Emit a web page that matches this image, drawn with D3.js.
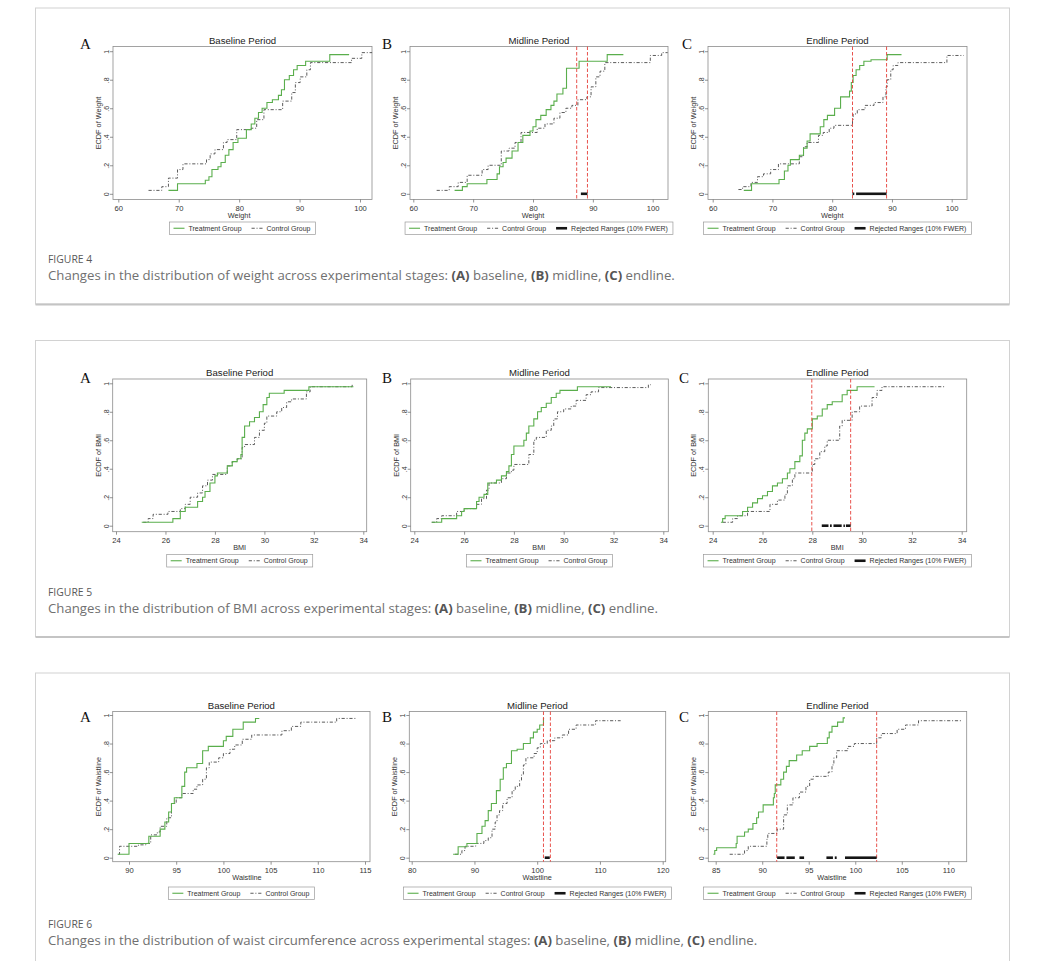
<!DOCTYPE html>
<html>
<head>
<meta charset="utf-8">
<script src="https://cdn.jsdelivr.net/npm/d3@7"></script>
<style>
  body { margin: 0; background: #fff; }
  svg { display: block; }
</style>
</head>
<body>
<svg id="fig" width="1052" height="961"></svg>
<script>
// ---- tick labels / categories ----
const weightTicks = [60, 70, 80, 90, 100];
const bmiTicks = [24, 26, 28, 30, 32, 34];
const waistTicksA = [90, 95, 100, 105, 110, 115];
const waistTicksB = [80, 90, 100, 110, 120];
const waistTicksC = [85, 90, 95, 100, 105, 110];
const ecdfTicks = [0, .2, .4, .6, .8, 1];
const periods = ["Baseline Period", "Midline Period", "Endline Period"];
const letters = ["A", "B", "C"];

// ---- ECDF steps: [value, level after the step] ----
const weightBaseTreat = [[68.3,.024],[69.8,.07],[74.4,.095],[75.0,.12],[75.5,.17],[76.5,.19],[77.0,.22],[77.7,.27],[78.3,.31],[79.0,.36],[79.8,.39],[81.2,.45],[82.0,.49],[82.6,.53],[83.2,.57],[83.8,.6],[84.6,.64],[85.5,.66],[86.5,.69],[87.0,.73],[87.5,.8],[88.3,.83],[89.0,.87],[89.6,.9],[91.0,.93],[95.0,.976],[98.2,.976]];
const weightBaseCtrl = [[65.0,.024],[67.2,.05],[68.3,.11],[69.8,.17],[70.7,.21],[74.6,.24],[75.2,.28],[76.0,.31],[77.4,.36],[78.0,.38],[79.6,.45],[82.0,.46],[82.9,.52],[84.1,.59],[87.2,.65],[88.7,.71],[89.3,.78],[90.1,.82],[91.2,.87],[91.8,.92],[98.6,.95],[100.3,.99],[102,.99]];
const weightMidTreat = [[66.9,.024],[68.2,.05],[69.0,.07],[72.3,.1],[74.0,.14],[74.4,.19],[75.0,.22],[75.5,.25],[76.5,.3],[77.5,.36],[78.3,.41],[79.5,.44],[80.0,.47],[80.5,.52],[81.3,.55],[82.2,.59],[83.0,.62],[83.5,.65],[84.0,.7],[85.0,.74],[85.6,.88],[87.7,.93],[92.4,.976],[95.1,.976]];
const weightMidCtrl = [[63.9,.024],[66.0,.05],[67.5,.08],[69.0,.13],[71.5,.17],[72.5,.2],[74.7,.3],[76.0,.32],[77.0,.36],[78.0,.43],[80.7,.46],[82.0,.49],[83.5,.53],[84.5,.57],[85.5,.6],[86.5,.62],[87.5,.66],[89.0,.68],[89.7,.75],[90.5,.82],[91.2,.86],[92.0,.92],[99.6,.97],[101.5,.99],[102.5,.99]];
const weightEndTreat = [[65.2,.024],[66.5,.07],[71.1,.1],[72.0,.16],[72.6,.2],[73.0,.24],[74.5,.27],[75.2,.32],[75.8,.37],[76.3,.42],[78.0,.47],[78.6,.52],[79.2,.55],[80.4,.6],[81.4,.68],[82.9,.72],[83.2,.78],[83.5,.83],[84.0,.87],[84.6,.9],[85.3,.93],[86.5,.94],[89.2,.976],[91.6,.976]];
const weightEndCtrl = [[64.3,.03],[65.0,.05],[66.4,.08],[67.5,.12],[68.5,.14],[69.7,.17],[71.0,.21],[74.5,.26],[75.2,.33],[75.8,.36],[77.7,.41],[78.5,.43],[79.5,.46],[80.3,.48],[83.4,.52],[83.5,.56],[84.2,.59],[85.5,.62],[87.0,.64],[88.5,.68],[89.0,.75],[89.2,.8],[89.8,.87],[90.2,.9],[91.0,.92],[99.2,.97],[102,.97]];

const bmiBaseTreat = [[25.04,.024],[26.3,.05],[26.6,.1],[26.8,.13],[27.3,.17],[27.5,.2],[27.6,.24],[27.8,.3],[28.0,.35],[28.1,.37],[28.5,.42],[28.7,.45],[28.9,.47],[29.05,.5],[29.1,.62],[29.2,.7],[29.4,.73],[29.6,.76],[29.8,.8],[29.95,.85],[30.1,.9],[30.2,.93],[30.8,.95],[31.8,.976],[33.6,.976]];
const bmiBaseCtrl = [[25.1,.024],[25.3,.05],[25.5,.08],[26.1,.1],[26.6,.12],[26.8,.15],[27.0,.2],[27.3,.23],[27.5,.28],[27.7,.32],[27.9,.36],[28.5,.42],[28.7,.45],[28.9,.47],[29.1,.55],[29.2,.57],[29.6,.62],[29.8,.67],[30.0,.72],[30.1,.77],[30.5,.8],[30.7,.83],[30.9,.87],[31.1,.89],[31.7,.94],[31.85,.976],[33.55,.99],[33.6,.99]];
const bmiMidTreat = [[24.7,.024],[25.1,.05],[25.7,.07],[25.9,.1],[26.0,.12],[26.5,.17],[26.6,.2],[26.8,.22],[26.95,.3],[27.3,.32],[27.5,.35],[27.7,.38],[27.8,.42],[27.9,.5],[28.0,.56],[28.4,.6],[28.5,.65],[28.6,.7],[28.8,.75],[28.95,.8],[29.1,.83],[29.3,.86],[29.5,.9],[29.7,.93],[29.85,.95],[30.55,.976],[31.9,.976]];
const bmiMidCtrl = [[24.7,.024],[24.9,.05],[25.1,.07],[25.7,.1],[26.0,.12],[26.5,.15],[26.7,.19],[26.9,.25],[27.0,.3],[27.5,.33],[27.7,.37],[27.9,.39],[28.0,.43],[28.6,.5],[28.8,.6],[28.9,.62],[29.3,.67],[29.5,.7],[29.6,.75],[29.75,.8],[30.0,.82],[30.3,.84],[30.5,.88],[30.9,.92],[31.1,.94],[31.4,.97],[33.4,.99],[33.5,.99]];
const bmiEndTreat = [[24.33,.024],[24.4,.05],[24.5,.07],[25.2,.1],[25.4,.13],[25.6,.16],[25.8,.19],[26.0,.21],[26.2,.24],[26.4,.28],[26.6,.3],[26.8,.33],[27.0,.37],[27.1,.4],[27.3,.45],[27.5,.49],[27.6,.6],[27.7,.65],[27.8,.68],[28.0,.75],[28.2,.77],[28.4,.82],[28.6,.85],[28.8,.87],[29.2,.92],[29.4,.95],[29.8,.976],[30.5,.976]];
const bmiEndCtrl = [[24.4,.024],[24.8,.05],[25.0,.07],[25.4,.1],[26.3,.15],[26.6,.18],[26.9,.22],[27.0,.28],[27.2,.33],[27.3,.37],[28.0,.43],[28.1,.47],[28.3,.52],[28.5,.56],[28.6,.6],[29.1,.7],[29.2,.74],[29.6,.8],[29.9,.84],[30.4,.9],[30.6,.95],[30.8,.976],[33.3,.976]];

const waistBaseTreat = [[88.8,.024],[90.0,.1],[92.1,.15],[93.3,.2],[93.8,.25],[94.2,.32],[94.5,.38],[94.8,.42],[95.6,.5],[95.9,.6],[96.1,.63],[97.2,.66],[97.8,.75],[98.4,.78],[100.0,.82],[100.3,.85],[101.0,.9],[102.1,.95],[103.4,.976],[103.8,.976]];
const waistBaseCtrl = [[88.9,.024],[89.0,.08],[91.0,.09],[91.8,.1],[92.3,.16],[93.0,.18],[93.3,.22],[94.0,.28],[94.5,.38],[95.0,.42],[95.6,.45],[96.8,.48],[97.2,.51],[97.8,.55],[98.2,.63],[98.5,.67],[99.5,.7],[100.0,.73],[100.7,.76],[101.2,.79],[102.0,.83],[103.0,.86],[106.2,.89],[107.2,.92],[108.2,.95],[112.0,.976],[114.0,.976]];
const waistMidTreat = [[86.6,.024],[87.4,.077],[88.8,.1],[90.4,.17],[91.2,.22],[91.7,.26],[92.2,.33],[92.7,.38],[93.5,.47],[94.1,.55],[94.6,.63],[95.1,.66],[95.9,.75],[96.8,.76],[97.8,.8],[98.9,.84],[99.4,.88],[100.0,.9],[100.4,.93],[101.0,.976],[101.1,.976]];
const waistMidCtrl = [[86.9,.024],[88.0,.05],[88.5,.08],[90.2,.1],[91.5,.12],[92.2,.14],[92.8,.2],[93.3,.25],[93.6,.3],[94.0,.33],[94.5,.38],[95.2,.42],[96.0,.47],[96.5,.5],[97.2,.54],[97.5,.58],[97.8,.65],[98.2,.7],[99.5,.73],[100.0,.77],[100.5,.8],[101.6,.82],[102.8,.84],[104.0,.86],[105.0,.9],[106.2,.93],[109.3,.96],[113.3,.96]];
const waistEndTreat = [[84.75,.024],[84.9,.05],[85.1,.07],[87.2,.1],[87.3,.15],[88.1,.18],[88.5,.2],[89.0,.24],[89.4,.28],[89.6,.32],[90.1,.37],[91.2,.42],[91.3,.45],[91.4,.51],[92.0,.55],[92.3,.6],[92.6,.64],[92.9,.68],[93.7,.72],[94.3,.75],[95.1,.78],[95.9,.8],[97.0,.84],[97.2,.88],[97.5,.92],[98.1,.95],[98.7,.98],[98.9,.98]];
const waistEndCtrl = [[86.5,.024],[88.1,.05],[88.5,.08],[90.5,.13],[90.6,.17],[91.6,.2],[92.3,.3],[92.7,.37],[93.3,.42],[94.0,.46],[94.7,.5],[95.1,.55],[95.5,.57],[97.1,.6],[97.5,.65],[97.7,.7],[98.0,.75],[99.2,.78],[99.9,.8],[102.3,.84],[102.8,.87],[104.5,.9],[105.4,.93],[106.8,.96],[111.5,.96]];

// critical values (red dashed) and rejected ranges
const weightMidLines = [87.3, 89.1];
const weightMidRejected = [[88.0, 89.1]];
const weightEndLines = [83.4, 89.1];
const weightEndRejected = [[83.4, 83.7], [84.0, 89.1]];
const bmiEndLines = [27.98, 29.54];
const bmiEndRejected = [[28.38, 28.65], [28.71, 28.78], [28.85, 29.18], [29.25, 29.31], [29.35, 29.54]];
const waistMidLines = [101.0, 102.1];
const waistMidRejected = [[101.2, 102.0]];
const waistEndLines = [91.56, 102.3];
const waistEndRejected = [[91.6, 92.4], [92.6, 93.5], [94.0, 94.5], [96.9, 97.6], [97.8, 98.0], [98.9, 102.3]];

// ---- layout ----
const figures = [
  { top: 7.5, num: "FIGURE 4", subject: "weight", xTitle: "Weight", yTitle: "ECDF of Weight",
    fb: 192, y0: 186.3, y1: 43.7, letterY: 41.5,
    panels: [
      { frame: [113, 372], tx: [118.3, 360], lx: 80, ticks: weightTicks, treat: weightBaseTreat, ctrl: weightBaseCtrl },
      { frame: [410, 668], tx: [413.3, 652.7], lx: 382, ticks: weightTicks, treat: weightMidTreat, ctrl: weightMidCtrl, lines: weightMidLines, rej: weightMidRejected },
      { frame: [708, 967], tx: [712.7, 951.7], lx: 682, ticks: weightTicks, treat: weightEndTreat, ctrl: weightEndCtrl, lines: weightEndLines, rej: weightEndRejected }
    ] },
  { top: 340, num: "FIGURE 5", subject: "BMI", xTitle: "BMI", yTitle: "ECDF of BMI",
    fb: 191.7, y0: 185.7, y1: 43.3, letterY: 43,
    panels: [
      { frame: [112.7, 366.7], tx: [116, 363.3], lx: 80, ticks: bmiTicks, treat: bmiBaseTreat, ctrl: bmiBaseCtrl },
      { frame: [410.7, 668.3], tx: [414.3, 663.3], lx: 382, ticks: bmiTicks, treat: bmiMidTreat, ctrl: bmiMidCtrl },
      { frame: [708.3, 966.7], tx: [712.7, 961.7], lx: 679, ticks: bmiTicks, treat: bmiEndTreat, ctrl: bmiEndCtrl, lines: bmiEndLines, rej: bmiEndRejected }
    ] },
  { top: 672.5, num: "FIGURE 6", subject: "waist circumference", xTitle: "Waistline", yTitle: "ECDF of Waistline",
    fb: 189.2, y0: 185.2, y1: 42.5, letterY: 49,
    panels: [
      { frame: [112.7, 370], tx: [129, 365], lx: 80, ticks: waistTicksA, treat: waistBaseTreat, ctrl: waistBaseCtrl },
      { frame: [409.3, 665.7], tx: [411.7, 662.7], lx: 382, ticks: waistTicksB, treat: waistMidTreat, ctrl: waistMidCtrl, lines: waistMidLines, rej: waistMidRejected },
      { frame: [708.3, 966.7], tx: [715.7, 948.3], lx: 679, ticks: waistTicksC, treat: waistEndTreat, ctrl: waistEndCtrl, lines: waistEndLines, rej: waistEndRejected }
    ] }
];

const GREEN = "#5aae4c", GREY = "#4a4a4a", RED = "#e5403a";
const CTRL_DASH = "3.2,1.8,1,1.8";
const FONT = "'Liberation Sans', Arial, sans-serif";
const FRAME_TOP = 39;

const svg = d3.select("#fig");

function drawPanel(g, fig, p, i) {
  const x = d3.scaleLinear().domain([p.ticks[0], p.ticks[p.ticks.length - 1]]).range(p.tx);
  const y = d3.scaleLinear().domain([0, 1]).range([fig.y0, fig.y1]);
  const [fl, fr] = p.frame;
  const ft = FRAME_TOP, fb = fig.fb;
  const cx = (fl + fr) / 2;

  g.append("rect")
    .attr("x", fl).attr("y", ft)
    .attr("width", fr - fl).attr("height", fb - ft)
    .attr("fill", "#fff").attr("stroke", "#8c8c8c").attr("stroke-width", 0.8);

  // axes
  const xa = g.append("g").attr("transform", `translate(0,${fb})`)
    .call(d3.axisBottom(x).tickValues(p.ticks).tickSize(3).tickPadding(2).tickFormat(d3.format("d")));
  xa.select(".domain").remove();
  xa.selectAll("line").attr("stroke", "#666").attr("stroke-width", 0.7);
  xa.selectAll("text").attr("font-family", FONT).attr("font-size", 7.6).attr("fill", "#333")
    .attr("y", 11).attr("dy", 0);

  const ya = g.append("g").attr("transform", `translate(${fl},0)`)
    .call(d3.axisLeft(y).tickValues(ecdfTicks).tickSize(3)
      .tickFormat(v => v === 0 ? "0" : v === 1 ? "1" : String(v).replace("0.", ".")));
  ya.select(".domain").remove();
  ya.selectAll("line").attr("stroke", "#666").attr("stroke-width", 0.7);
  ya.selectAll("text")
    .attr("font-family", FONT).attr("font-size", 7).attr("fill", "#333")
    .attr("text-anchor", "middle").attr("x", 0).attr("y", -4).attr("dy", 0)
    .attr("transform", "rotate(-90)");

  g.append("text")
    .attr("transform", `translate(${fl - 12},${(ft + fb) / 2}) rotate(-90)`)
    .attr("text-anchor", "middle")
    .attr("font-family", FONT).attr("font-size", 7.3).attr("fill", "#333")
    .text(fig.yTitle);

  g.append("text")
    .attr("x", x((p.ticks[0] + p.ticks[p.ticks.length - 1]) / 2)).attr("y", fb + 18.6)
    .attr("text-anchor", "middle")
    .attr("font-family", FONT).attr("font-size", 7.3).attr("fill", "#333")
    .text(fig.xTitle);

  // title + panel letter
  g.append("text")
    .attr("x", cx).attr("y", 36.3)
    .attr("text-anchor", "middle")
    .attr("font-family", FONT).attr("font-size", 9.6).attr("fill", "#222")
    .text(periods[i]);
  g.append("text")
    .attr("x", p.lx).attr("y", fig.letterY)
    .attr("font-family", "'Liberation Serif', 'Times New Roman', serif")
    .attr("font-size", 15).attr("fill", "#111")
    .text(letters[i]);

  // series
  const step = d3.line().x(d => x(d[0])).y(d => y(d[1])).curve(d3.curveStepAfter);
  g.append("path").datum(p.ctrl)
    .attr("d", step).attr("fill", "none")
    .attr("stroke", GREY).attr("stroke-width", 0.9).attr("stroke-dasharray", CTRL_DASH);
  g.append("path").datum(p.treat)
    .attr("d", step).attr("fill", "none")
    .attr("stroke", GREEN).attr("stroke-width", 1.1);

  if (p.lines) {
    g.selectAll(null).data(p.lines).join("line")
      .attr("x1", d => x(d)).attr("x2", d => x(d))
      .attr("y1", ft).attr("y2", fb)
      .attr("stroke", RED).attr("stroke-width", 0.9).attr("stroke-dasharray", "3.5,2");
    g.selectAll(null).data(p.rej).join("line")
      .attr("x1", d => x(d[0])).attr("x2", d => x(d[1]))
      .attr("y1", y(0)).attr("y2", y(0))
      .attr("stroke", "#151515").attr("stroke-width", 2.6);
  }

  // legend
  const items = [
    { label: "Treatment Group", kind: "treat" },
    { label: "Control Group", kind: "ctrl" }
  ];
  if (p.rej) items.push({ label: "Rejected Ranges (10% FWER)", kind: "rej" });
  const lg = g.append("g");
  const ly0 = 214.5, ly1 = 227, lmid = (ly0 + ly1) / 2;
  const box = lg.append("rect").attr("y", ly0).attr("height", ly1 - ly0)
    .attr("fill", "#fff").attr("stroke", "#9a9a9a").attr("stroke-width", 0.7);
  let cur = 4;
  const placed = [];
  items.forEach((it, k) => {
    const sx = cur;
    const t = lg.append("text").attr("y", 223.4)
      .attr("font-family", FONT).attr("font-size", 7).attr("fill", "#333")
      .text(it.label);
    const w = t.node().getComputedTextLength();
    t.attr("x", sx + 15);
    placed.push({ it, sx });
    cur = sx + 15 + w + (k < items.length - 1 ? 10 : 5);
  });
  const left = cx - cur / 2;
  lg.attr("transform", `translate(${left},0)`);
  box.attr("x", 0).attr("width", cur);
  placed.forEach(({ it, sx }) => {
    const l = lg.append("line").attr("x1", sx).attr("x2", sx + 11).attr("y1", lmid).attr("y2", lmid);
    if (it.kind === "treat") l.attr("stroke", GREEN).attr("stroke-width", 1.1);
    else if (it.kind === "ctrl") l.attr("stroke", GREY).attr("stroke-width", 0.9).attr("stroke-dasharray", CTRL_DASH);
    else l.attr("stroke", "#151515").attr("stroke-width", 2.6);
  });
}

figures.forEach(fig => {
  const g = svg.append("g").attr("transform", `translate(0,${fig.top})`);
  g.append("rect")
    .attr("x", 35.5).attr("y", 0.5).attr("width", 974).attr("height", 296)
    .attr("fill", "#fff").attr("stroke", "#d2d2d2").attr("stroke-width", 1);
  g.append("line")
    .attr("x1", 35.5).attr("x2", 1009.5).attr("y1", 297).attr("y2", 297)
    .attr("stroke", "#c4c4c4").attr("stroke-width", 2);

  fig.panels.forEach((p, i) => drawPanel(g, fig, p, i));

  g.append("text")
    .attr("x", 48).attr("y", 255.5)
    .attr("font-family", "'Open Sans', sans-serif").attr("font-size", 10.4).attr("fill", "#5a5a5a")
    .text(fig.num);
  const cap = g.append("text")
    .attr("x", 48).attr("y", 272.5)
    .attr("font-family", "'Open Sans', sans-serif").attr("font-size", 13.2).attr("fill", "#707070");
  const parts = [
    [`Changes in the distribution of ${fig.subject} across experimental stages: `, false],
    ["(A)", true], [" baseline, ", false], ["(B)", true], [" midline, ", false], ["(C)", true], [" endline.", false]
  ];
  parts.forEach(([s, b]) => {
    const ts = cap.append("tspan").text(s);
    if (b) ts.attr("font-weight", 700).attr("fill", "#555");
  });
});
</script>
</body>
</html>
